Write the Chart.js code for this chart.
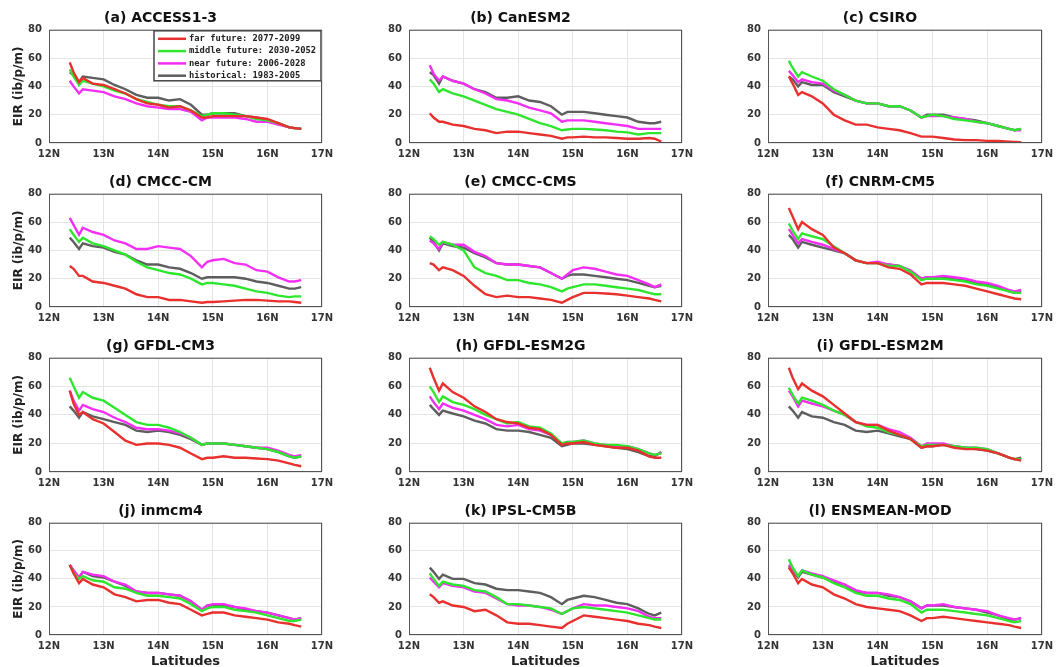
<!DOCTYPE html>
<html>
<head>
<meta charset="utf-8">
<script src="https://cdn.jsdelivr.net/npm/chart.js@4.4.1/dist/chart.umd.min.js"></script>
<style>
  html, body { margin: 0; padding: 0; background: #fff; width: 1057px; height: 667px; overflow: hidden; position: relative; }
  canvas { position: absolute; }
</style>
</head>
<body>
<script>
const lats = [12.38, 12.45, 12.55, 12.62, 12.8, 13.0, 13.2, 13.4, 13.6, 13.8, 14.0, 14.2, 14.4, 14.6, 14.8, 14.9, 15.0, 15.2, 15.4, 15.6, 15.8, 16.0, 16.2, 16.4, 16.5, 16.62];

const seriesLabels = ['far future: 2077-2099', 'middle future: 2030-2052', 'near future: 2006-2028', 'historical: 1983-2005'];
const seriesColors = ['#e8302e', '#2fe62f', '#f52ef5', '#5e5e5e'];
const xTicks = [12, 13, 14, 15, 16, 17];
const yTicks = [0, 20, 40, 60, 80];

// (a) ACCESS1-3
const aFar  = [57, 50, 43, 46, 42, 41, 38, 35, 31, 28, 27, 25, 26, 23, 18, 18, 19, 19, 19, 19, 18, 17, 14, 11, 10.5, 10];
const aMid  = [52, 47, 41, 44, 42, 40, 37, 35, 31, 29, 27, 26, 26, 23, 19, 20, 21, 21, 20, 19, 17, 16, 14, 11, 10.5, 10];
const aNear = [44, 40, 35, 38, 37, 36, 33, 31, 28, 26, 25, 24, 24, 22, 16, 18, 18, 18, 18, 17, 15, 15, 13, 11, 10.5, 10];
const aHist = [50, 48, 43, 47, 46, 45, 41, 38, 34, 32, 32, 30, 31, 27, 20, 20, 21, 21, 21, 19, 18, 16, 14, 11, 10.5, 10];
// (b) CanESM2
const bFar  = [21, 18, 15, 15, 13, 12, 10, 9, 7, 8, 8, 7, 6, 5, 3, 4, 4, 4.5, 4, 4, 3.5, 3, 3, 3.5, 3, 1];
const bMid  = [45, 42, 36, 38, 35, 33, 30, 27, 24, 22, 20, 17, 14, 12, 9, 9.5, 10, 10, 9.5, 9, 8, 7.5, 6, 7, 7, 7];
const bNear = [55, 49, 44, 47, 44, 42, 38, 35, 31, 30, 28, 25, 23, 21, 15, 16, 16, 16, 15, 14, 13, 12, 10, 10, 10, 10];
const bHist = [50, 48, 42, 47, 44, 42, 38, 36, 32, 32, 33, 30, 29, 26, 20, 22, 22, 22, 21, 20, 19, 18, 15, 14, 14, 15];
// (c) CSIRO
const cFar  = [47, 42, 34, 36, 33, 28, 20, 16, 13, 13, 11, 10, 9, 7, 4.5, 4.5, 4.5, 3.5, 2.5, 2, 2, 1.5, 1.5, 1, 0.8, 0.5];
const cMid  = [58, 53, 47, 50, 47, 44, 38, 34, 30, 28, 28, 26, 26, 23, 18, 19, 20, 19, 17, 16, 15, 14, 12, 10, 9, 10];
const cNear = [51, 48, 43, 45, 43, 42, 37, 34, 30, 28, 28, 26, 26, 23, 18, 19, 19, 19, 18, 17, 15, 14, 12, 10, 9, 9];
const cHist = [47, 45, 40, 43, 41, 41, 36, 33, 30, 28, 28, 26, 26, 23, 18, 20, 20, 20, 18, 17, 16, 14, 12, 10, 9, 10];
// (d) CMCC-CM
const dFar  = [29, 27, 22, 22, 18, 17, 15, 13, 9, 7, 7, 5, 5, 4, 3, 3.5, 3.5, 4, 4.5, 5, 5, 4.5, 4, 4, 3.5, 3];
const dMid  = [55, 51, 46, 49, 45, 43, 40, 37, 32, 28, 26, 24, 23, 20, 16, 17, 17, 16, 15, 13, 11, 10, 8, 7, 7.5, 7.5];
const dNear = [63, 58, 51, 56, 53, 51, 47, 45, 41, 41, 43, 42, 41, 36, 28, 32, 33, 34, 31, 30, 26, 25, 21, 18, 18, 19];
const dHist = [49, 46, 41, 45, 43, 42, 39, 37, 33, 30, 30, 28, 27, 24, 20, 21, 21, 21, 21, 20, 18, 17, 15, 13, 13, 14];
// (e) CMCC-CMS
const eFar  = [31, 30, 26, 28, 26, 22, 15, 9, 7, 8, 7, 7, 6, 5, 3, 5, 7, 10, 10, 9.5, 9, 8, 7, 6, 5, 4];
const eMid  = [50, 48, 44, 46, 44, 40, 28, 24, 22, 19, 19, 17, 16, 14, 11, 13, 14, 16, 16, 15, 14, 13, 12, 10, 9, 9];
const eNear = [47, 45, 41, 46, 44, 44, 39, 36, 31, 30, 30, 29, 28, 24, 20, 23, 26, 28, 27, 25, 23, 22, 19, 16, 14, 16];
const eHist = [49, 46, 40, 45, 43, 42, 38, 35, 31, 30, 30, 29, 28, 24, 20, 22, 23, 23, 22, 21, 20, 19, 17, 15, 14, 15];
// (f) CNRM-CM5
const fFar  = [70, 64, 55, 60, 55, 51, 42, 38, 33, 31, 31, 28, 27, 23, 16, 17, 17, 17, 16, 15, 13, 11, 9, 7, 6, 5.5];
const fMid  = [59, 54, 48, 52, 50, 48, 43, 38, 33, 31, 31, 29, 29, 25, 19, 20, 20, 20, 19, 18, 16, 15, 13, 11, 10, 10];
const fNear = [55, 51, 45, 48, 46, 44, 41, 38, 33, 31, 32, 30, 29, 26, 20, 21, 21, 22, 21, 20, 18, 17, 15, 12, 11, 12];
const fHist = [51, 48, 42, 46, 44, 42, 40, 38, 33, 31, 31, 30, 29, 25, 20, 21, 21, 21, 20, 19, 17, 16, 14, 11, 10, 11];
// (g) GFDL-CM3
const gFar  = [57, 48, 40, 42, 37, 34, 28, 22, 19, 20, 20, 19, 17, 13, 9, 10, 10, 11, 10, 10, 9.5, 9, 8, 6, 5, 4];
const gMid  = [66, 60, 52, 56, 52, 50, 45, 40, 35, 33, 33, 31, 28, 24, 19, 20, 20, 20, 19, 18, 17, 16, 14, 11, 10, 11];
const gNear = [57, 50, 43, 47, 44, 42, 38, 35, 31, 30, 30, 29, 27, 24, 19, 20, 20, 20, 19, 18, 17, 17, 15, 12, 11, 12];
const gHist = [46, 43, 38, 42, 39, 37, 35, 33, 29, 28, 29, 28, 26, 23, 19, 20, 20, 20, 19, 18, 17, 16, 14, 11, 10, 11];
// (h) GFDL-ESM2G
const hFar  = [73, 66, 57, 62, 56, 52, 46, 42, 37, 35, 34, 31, 30, 26, 19, 20, 20, 21, 19, 18, 17, 17, 15, 11, 10, 10];
const hMid  = [60, 56, 49, 53, 49, 47, 44, 40, 37, 34, 35, 32, 31, 27, 20, 21, 21, 22, 20, 19, 19, 18, 16, 13, 12, 13];
const hNear = [53, 49, 44, 48, 45, 43, 40, 37, 33, 32, 33, 30, 29, 26, 20, 21, 21, 22, 20, 19, 18, 18, 16, 13, 12, 13];
const hHist = [47, 44, 40, 43, 41, 39, 36, 34, 30, 29, 29, 28, 26, 24, 18, 19, 20, 20, 19, 18, 17, 16, 14, 11, 11, 14];
// (i) GFDL-ESM2M
const iFar  = [73, 66, 58, 62, 57, 53, 47, 41, 35, 33, 33, 29, 26, 23, 17, 18, 18, 19, 17, 16, 16, 15, 13, 10, 9, 8];
const iMid  = [59, 54, 48, 52, 50, 47, 43, 40, 35, 32, 31, 28, 26, 23, 18, 19, 19, 19, 18, 17, 17, 16, 13, 10, 9, 9];
const iNear = [57, 53, 46, 50, 48, 46, 43, 40, 35, 33, 33, 30, 28, 24, 18, 20, 20, 20, 18, 17, 17, 16, 13, 10, 9, 9];
const iHist = [46, 43, 38, 42, 39, 38, 35, 33, 29, 28, 29, 27, 25, 23, 17, 18, 18, 19, 18, 17, 16, 15, 13, 10, 9, 10];
// (j) inmcm4
const jFar  = [50, 44, 37, 40, 36, 34, 29, 27, 24, 25, 25, 23, 22, 18, 14, 15, 16, 16, 14, 13, 12, 11, 9, 8, 7, 6];
const jMid  = [50, 44, 40, 42, 39, 38, 34, 33, 30, 28, 28, 27, 26, 22, 17, 19, 20, 20, 18, 17, 16, 14, 12, 10, 10, 11];
const jNear = [50, 46, 41, 45, 43, 42, 38, 36, 31, 30, 30, 29, 28, 24, 18, 21, 22, 22, 20, 19, 17, 16, 14, 12, 11, 12];
const jHist = [50, 46, 41, 45, 42, 41, 38, 35, 31, 30, 30, 29, 28, 24, 18, 21, 21, 21, 20, 18, 17, 16, 14, 12, 11, 12];
// (k) IPSL-CM5B
const kFar  = [29, 27, 23, 24, 21, 20, 17, 18, 14, 9, 8, 8, 7, 6, 5, 8, 10, 14, 13, 12, 11, 10, 8, 7, 6, 5];
const kMid  = [44, 40, 35, 38, 36, 35, 32, 31, 27, 22, 22, 21, 20, 19, 15, 17, 19, 20, 19, 18, 17, 16, 14, 12, 11, 11];
const kNear = [41, 38, 34, 37, 35, 34, 31, 30, 26, 22, 21, 21, 20, 18, 15, 17, 19, 22, 21, 21, 20, 19, 17, 13, 12, 12];
const kHist = [48, 45, 40, 43, 40, 40, 37, 36, 33, 32, 32, 31, 30, 27, 22, 25, 26, 28, 27, 25, 23, 22, 19, 15, 14, 16];
// (l) ENSMEAN-MOD
const lFar  = [48, 44, 37, 40, 36, 34, 29, 26, 22, 20, 19, 18, 17, 14, 10, 12, 12, 13, 12, 11, 10, 9, 8, 7, 6, 5];
const lMid  = [54, 48, 42, 46, 43, 41, 37, 34, 30, 28, 28, 26, 25, 22, 16, 18, 18, 18, 17, 16, 15, 14, 12, 10, 9, 10];
const lNear = [50, 47, 42, 46, 44, 42, 39, 36, 32, 30, 30, 29, 27, 24, 19, 21, 21, 22, 20, 19, 18, 17, 14, 12, 11, 12];
const lHist = [49, 46, 41, 45, 43, 41, 38, 36, 31, 30, 30, 28, 27, 24, 19, 21, 21, 21, 20, 19, 18, 16, 14, 11, 11, 12];

const panels = [
  { title: '(a) ACCESS1-3',   series: [aFar, aMid, aNear, aHist] },
  { title: '(b) CanESM2',     series: [bFar, bMid, bNear, bHist] },
  { title: '(c) CSIRO',       series: [cFar, cMid, cNear, cHist] },
  { title: '(d) CMCC-CM',     series: [dFar, dMid, dNear, dHist] },
  { title: '(e) CMCC-CMS',    series: [eFar, eMid, eNear, eHist] },
  { title: '(f) CNRM-CM5',    series: [fFar, fMid, fNear, fHist] },
  { title: '(g) GFDL-CM3',    series: [gFar, gMid, gNear, gHist] },
  { title: '(h) GFDL-ESM2G',  series: [hFar, hMid, hNear, hHist] },
  { title: '(i) GFDL-ESM2M',  series: [iFar, iMid, iNear, iHist] },
  { title: '(j) inmcm4',      series: [jFar, jMid, jNear, jHist] },
  { title: '(k) IPSL-CM5B',   series: [kFar, kMid, kNear, kHist] },
  { title: '(l) ENSMEAN-MOD', series: [lFar, lMid, lNear, lHist] }
];

// plot area edges in the page
const colLeft = [49, 409, 768], colRight = [322, 682, 1042];
const rowTop = [30, 194, 358, 523], rowBottom = [143, 307, 472, 635];
const AXIS_W = 50, TITLE_H = 30, PAD_R = 20;
const FONT = 'DejaVu Sans';

// box round the plot area
const framePlugin = {
  id: 'frame',
  afterDatasetsDraw(chart) {
    const { ctx, chartArea: a } = chart;
    ctx.save();
    ctx.strokeStyle = '#555';
    ctx.lineWidth = 1;
    ctx.strokeRect(a.left + 0.5, a.top + 0.5, a.right - a.left - 1, a.bottom - a.top - 1);
    ctx.restore();
  }
};

// legend box in the top-right corner of panel (a)
const legendBox = {
  id: 'legendBox',
  afterDraw(chart, args, opts) {
    if (!opts.show) return;
    const { ctx, chartArea: a } = chart;
    const w = 168, h = 50;
    const x = a.right - w, y = a.top + 1;
    ctx.save();
    ctx.fillStyle = '#fff';
    ctx.fillRect(x, y, w, h);
    ctx.strokeStyle = '#444';
    ctx.lineWidth = 1.5;
    ctx.strokeRect(x, y, w - 1, h);
    ctx.font = 'bold 8.8px "DejaVu Sans Mono"';
    ctx.textBaseline = 'middle';
    chart.data.datasets.forEach((ds, i) => {
      const ly = y + 8 + i * 12.3;
      ctx.strokeStyle = ds.borderColor;
      ctx.lineWidth = 2.5;
      ctx.beginPath();
      ctx.moveTo(x + 4, ly);
      ctx.lineTo(x + 32, ly);
      ctx.stroke();
      ctx.fillStyle = '#222';
      ctx.fillText(ds.label, x + 35, ly);
    });
    ctx.restore();
  }
};

panels.forEach((p, idx) => {
  const col = idx % 3, row = Math.floor(idx / 3);
  const L = colLeft[col], R = colRight[col], T = rowTop[row], B = rowBottom[row];
  const xAxisH = row === 3 ? 34 : 22;
  const canvas = document.createElement('canvas');
  canvas.width = (R - L) + AXIS_W + PAD_R;
  canvas.height = TITLE_H + (B - T) + xAxisH;
  canvas.style.left = (L - AXIS_W) + 'px';
  canvas.style.top = (T - TITLE_H) + 'px';
  document.body.appendChild(canvas);

  new Chart(canvas.getContext('2d'), {
    type: 'line',
    data: {
      datasets: p.series.map((vals, i) => ({
        label: seriesLabels[i],
        data: lats.map((x, k) => ({ x: x, y: vals[k] })),
        borderColor: seriesColors[i],
        backgroundColor: seriesColors[i],
        borderWidth: 2.4,
        pointRadius: 0,
        tension: 0,
        fill: false
      }))
    },
    options: {
      responsive: false,
      animation: false,
      devicePixelRatio: 1,
      layout: { padding: { left: 0, right: PAD_R, top: 0, bottom: 0 } },
      scales: {
        x: {
          type: 'linear',
          min: 12, max: 17,
          afterBuildTicks: s => { s.ticks = xTicks.map(v => ({ value: v })); },
          afterFit: s => { s.height = xAxisH; },
          ticks: {
            callback: v => v + 'N',
            font: { family: FONT, size: 10, weight: 'bold' },
            color: '#333',
            padding: 5,
            maxRotation: 0
          },
          grid: { color: '#e4e4e4', drawTicks: false },
          border: { display: false },
          title: {
            display: row === 3,
            text: 'Latitudes',
            font: { family: FONT, size: 13, weight: 'bold' },
            color: '#222',
            padding: { top: 1, bottom: 0 }
          }
        },
        y: {
          min: 0, max: 80,
          afterBuildTicks: s => { s.ticks = yTicks.map(v => ({ value: v })); },
          afterFit: s => { s.width = AXIS_W; },
          ticks: {
            font: { family: FONT, size: 10, weight: 'bold' },
            color: '#333',
            padding: 7
          },
          grid: { color: '#e4e4e4', drawTicks: false },
          border: { display: false },
          title: {
            display: col === 0,
            text: 'EIR (ib/p/m)',
            font: { family: FONT, size: 12, weight: 'bold' },
            color: '#222',
            padding: { top: 12.8, bottom: 0 }
          }
        }
      },
      plugins: {
        legend: { display: false },
        tooltip: { enabled: false },
        title: {
          display: true,
          text: p.title,
          font: { family: FONT, size: 14, weight: 'bold' },
          color: '#111',
          padding: { top: 10, bottom: 3 }
        },
        legendBox: { show: idx === 0 }
      }
    },
    plugins: [framePlugin, legendBox]
  });
});
</script>
</body>
</html>
